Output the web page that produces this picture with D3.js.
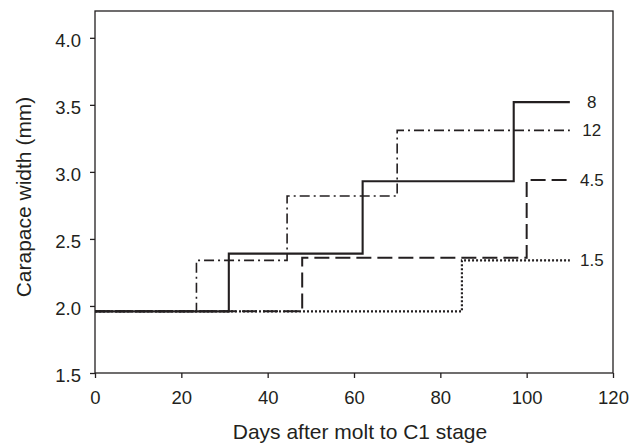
<!DOCTYPE html>
<html>
<head>
<meta charset="utf-8">
<script src="https://cdn.jsdelivr.net/npm/d3@7"></script>
<style>
  html, body { margin: 0; padding: 0; background: #fff; }
  svg { display: block; font-family: "Liberation Sans", Arial, sans-serif; }
</style>
</head>
<body>
<svg id="chart" width="638" height="446"></svg>
<script>
// ---- data ----
const xTicks = [0, 20, 40, 60, 80, 100, 120];
const yTicks = [1.5, 2.0, 2.5, 3.0, 3.5, 4.0];

const seriesNames = ["8", "12", "4.5", "1.5"];
const days8 = [0, 31, 62, 97, 110];
const width8 = [1.96, 2.39, 2.93, 3.52, 3.52];
const days12 = [0, 23.5, 44.5, 70, 110];
const width12 = [1.96, 2.34, 2.82, 3.31, 3.31];
const days45 = [0, 48, 100, 110];
const width45 = [1.96, 2.36, 2.94, 2.94];
const days15 = [0, 85, 110];
const width15 = [1.96, 2.34, 2.34];

const xLabel = "Days after molt to C1 stage";
const yLabel = "Carapace width (mm)";

// ---- layout ----
const margin = { left: 95, top: 11, right: 25, bottom: 73 };
const W = 638, H = 446;
const iw = W - margin.left - margin.right;
const ih = H - margin.top - margin.bottom;
const ink = "#231f20";

const svg = d3.select("#chart");
const g = svg.append("g").attr("transform", `translate(${margin.left},${margin.top})`);

const x = d3.scaleLinear().domain([0, 120]).range([0, iw]);
const y = d3.scaleLinear().domain([1.5, 4.2]).range([ih, 0]);

// frame
g.append("rect").attr("x", 0).attr("y", 0).attr("width", iw).attr("height", ih)
  .attr("fill", "none").attr("stroke", ink).attr("stroke-width", 1.3);

// axes
const xAxis = g.append("g").attr("transform", `translate(0,${ih})`)
  .call(d3.axisBottom(x).tickValues(xTicks).tickSize(5).tickPadding(13).tickFormat(d3.format("d")));
const yAxis = g.append("g")
  .call(d3.axisLeft(y).tickValues(yTicks).tickSize(5).tickPadding(9).tickFormat(d3.format(".1f")));
[xAxis, yAxis].forEach(a => {
  a.select(".domain").remove();
  a.selectAll("line").attr("stroke", ink).attr("stroke-width", 1.3);
  a.selectAll("text").attr("fill", ink).style("font-size", "18.5px");
});
yAxis.selectAll("text").attr("dy", "0.45em");

// series
const series = [
  { name: seriesNames[0], d: days8, v: width8, dash: null, sw: 2.1 },
  { name: seriesNames[1], d: days12, v: width12, dash: "10,4,2,4", sw: 1.6 },
  { name: seriesNames[2], d: days45, v: width45, dash: "15,6", sw: 2.0 },
  { name: seriesNames[3], d: days15, v: width15, dash: "2,2", sw: 2.2 }
];

const line = d3.line().x(p => x(p[0])).y(p => y(p[1])).curve(d3.curveStepAfter);

// draw in back-to-front order: dotted, dashed, dash-dot, solid
[3, 2, 1, 0].forEach(i => {
  const s = series[i];
  const pts = s.d.map((dd, k) => [dd, s.v[k]]);
  g.append("path").datum(pts)
    .attr("d", line)
    .attr("fill", "none")
    .attr("stroke", ink)
    .attr("stroke-width", s.sw)
    .attr("stroke-dasharray", s.dash);
});

// series labels
series.forEach(s => {
  const lastX = s.d[s.d.length - 1];
  const lastY = s.v[s.v.length - 1];
  g.append("text")
    .attr("x", x(lastX) + 22)
    .attr("y", y(lastY))
    .attr("dy", "0.35em")
    .attr("text-anchor", "middle")
    .attr("fill", ink)
    .style("font-size", "17px")
    .text(s.name);
});

// axis titles
svg.append("text")
  .attr("x", margin.left + iw / 2 + 6)
  .attr("y", 439)
  .attr("text-anchor", "middle")
  .attr("fill", ink)
  .style("font-size", "21px")
  .text(xLabel);

svg.append("text")
  .attr("transform", `translate(31,${margin.top + ih / 2 + 5}) rotate(-90)`)
  .attr("text-anchor", "middle")
  .attr("fill", ink)
  .style("font-size", "21px")
  .text(yLabel);
</script>
</body>
</html>
